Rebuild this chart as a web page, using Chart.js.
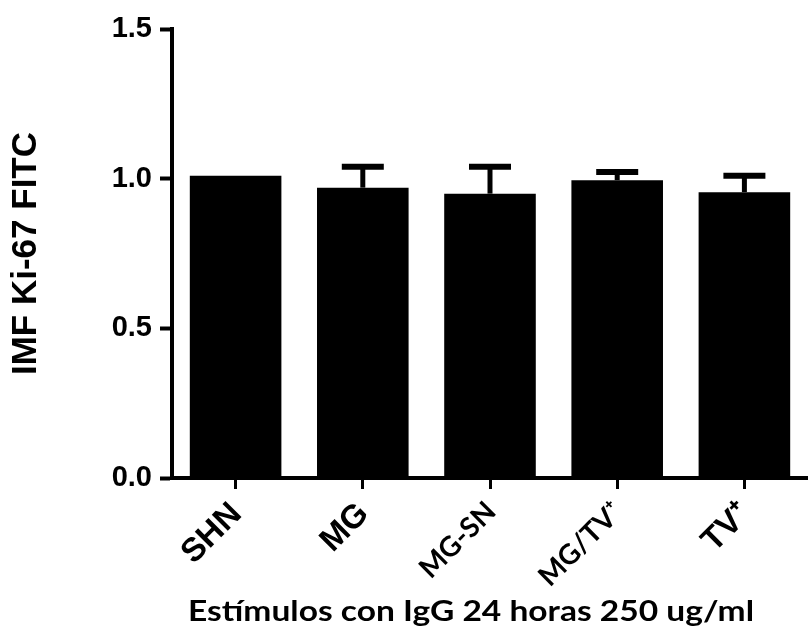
<!DOCTYPE html>
<html>
<head>
<meta charset="utf-8">
<script src="https://cdn.jsdelivr.net/npm/chart.js@4"></script>
<style>
  html, body { margin: 0; padding: 0; background: #fff; }
  #wrap { width: 808px; height: 628px; }
</style>
</head>
<body>
<div id="wrap"><canvas id="c" width="808" height="628"></canvas></div>
<script>
// Ki-67 mean fluorescence intensity per stimulus group
const categories = ['SHN', 'MG', 'MG-SN', 'MG/TV\u207A', 'TV\u207A'];
const meanValues = [1.01, 0.97, 0.95, 0.995, 0.955];
const sdValues   = [0.0, 0.07, 0.09, 0.027, 0.055];
const yTicks     = [0.0, 0.5, 1.0, 1.5];
const yTitle = 'IMF Ki-67 FITC';
const xTitle = 'Estímulos con IgG 24 horas 250 ug/ml';

// upward-only error bars with caps, placed with the chart's own scales
const errorBars = {
  id: 'errorBars',
  afterDatasetsDraw(chart) {
    const { ctx, scales: { x, y } } = chart;
    ctx.save();
    ctx.strokeStyle = '#000';
    meanValues.forEach((v, i) => {
      const sd = sdValues[i];
      if (!sd) return;
      const px = x.getPixelForValue(i);
      const yTop = y.getPixelForValue(v + sd);
      const yBar = y.getPixelForValue(v);
      ctx.lineWidth = 5;
      ctx.beginPath();
      ctx.moveTo(px, yBar);
      ctx.lineTo(px, yTop);
      ctx.stroke();
      ctx.lineWidth = 6;
      ctx.beginPath();
      ctx.moveTo(px - 21, yTop);
      ctx.lineTo(px + 21, yTop);
      ctx.stroke();
    });
    ctx.restore();
  }
};

// x-axis title under the rotated category labels, drawn slightly widened
const xAxisTitle = {
  id: 'xAxisTitle',
  afterDraw(chart) {
    const { ctx } = chart;
    ctx.save();
    ctx.fillStyle = '#000';
    ctx.font = 'bold 28px Lato, "Open Sans", sans-serif';
    ctx.textAlign = 'left';
    ctx.textBaseline = 'alphabetic';
    const w = ctx.measureText(xTitle).width;
    const targetW = 566;
    ctx.translate(188, 621);
    ctx.scale(targetW / w, 1);
    ctx.fillText(xTitle, 0, 0);
    ctx.restore();
  }
};

const arialBold = (size) => ({ family: '"Liberation Sans", Arial, sans-serif', weight: 'bold', size });
const latoBold = (size) => ({ family: 'Lato, "Open Sans", sans-serif', weight: 'bold', size });

new Chart(document.getElementById('c'), {
  type: 'bar',
  data: {
    labels: categories,
    datasets: [{
      data: meanValues,
      backgroundColor: '#000',
      borderWidth: 0,
      barPercentage: 0.72,
      categoryPercentage: 1.0
    }]
  },
  options: {
    responsive: false,
    animation: false,
    devicePixelRatio: 1,
    layout: { padding: { top: 29, right: 0, bottom: 0, left: 0 } },
    plugins: {
      legend: { display: false },
      tooltip: { enabled: false }
    },
    scales: {
      x: {
        offset: true,
        grid: {
          offset: false,
          drawOnChartArea: false,
          drawTicks: true,
          tickLength: 11,
          tickWidth: 3,
          tickColor: '#000'
        },
        border: { display: true, color: '#000', width: 4 },
        ticks: {
          color: '#000',
          minRotation: 45,
          maxRotation: 45,
          padding: 6,
          labelOffset: 1,
          font: (ctx) => (ctx.index === 2 || ctx.index === 3)
            ? latoBold(28)
            : arialBold(33)
        },
        afterFit(scale) { scale.height = 150; }
      },
      y: {
        min: 0,
        max: 1.5,
        afterBuildTicks(scale) {
          scale.ticks = yTicks.map(v => ({ value: v }));
        },
        grid: {
          drawOnChartArea: false,
          drawTicks: true,
          tickLength: 12,
          tickWidth: 4,
          tickColor: '#000'
        },
        border: { display: true, color: '#000', width: 4 },
        ticks: {
          color: '#000',
          padding: 8,
          font: arialBold(29),
          callback: (v) => Number(v).toFixed(1)
        },
        title: {
          display: true,
          text: yTitle,
          color: '#000',
          font: arialBold(35),
          padding: { top: 5, bottom: 0 }
        },
        afterFit(scale) { scale.width = 172; }
      }
    }
  },
  plugins: [errorBars, xAxisTitle]
});
</script>
</body>
</html>
